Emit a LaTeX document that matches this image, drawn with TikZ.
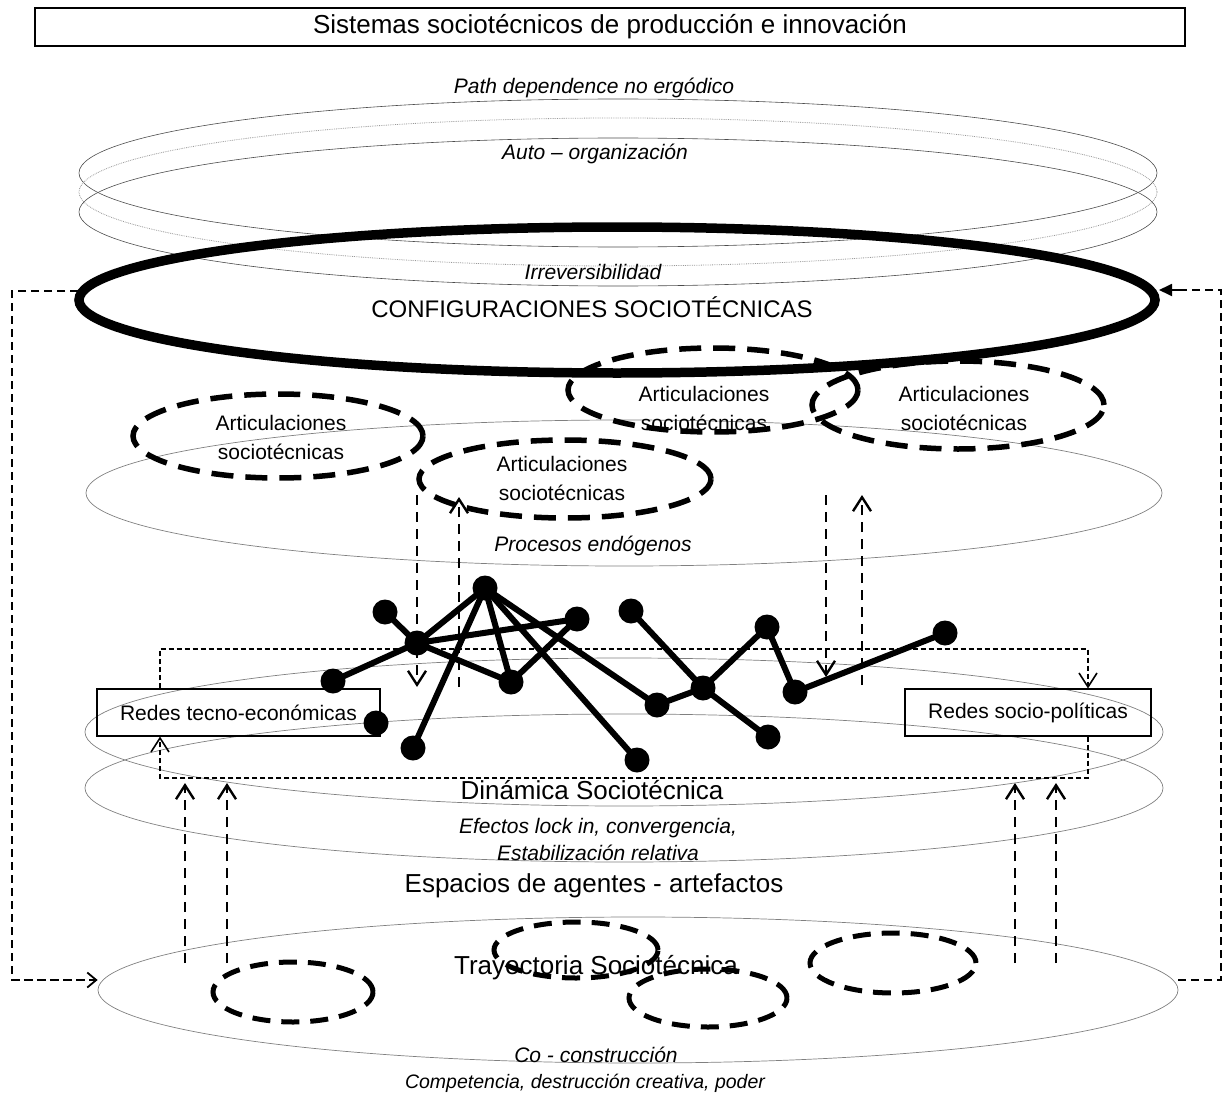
\documentclass[tikz,border=0pt]{standalone}
\usepackage{fontspec}
\setmainfont{Liberation Sans}
\usetikzlibrary{arrows.meta,shapes.geometric,calc}
\tikzset{
  layer/.style={draw=black!70, line width=0.6pt, ellipse, inner sep=0pt},
  layergray/.style={draw=black!50, line width=0.7pt, ellipse, inner sep=0pt},
  layerdot/.style={draw=black!40, line width=0.8pt, densely dotted, ellipse, inner sep=0pt},
  thickring/.style={draw, line width=9.5pt, ellipse, inner sep=0pt},
  artic/.style={draw, ellipse, line width=5.5pt, dash pattern=on 22pt off 12pt, inner sep=0pt},
  smallring/.style={draw, ellipse, line width=5pt, dash pattern=on 18pt off 11pt, inner sep=0pt},
  netnode/.style={circle, fill=black, minimum size=25pt, inner sep=0pt},
  netedge/.style={line width=6pt},
  redbox/.style={draw, line width=1.1pt, minimum height=47pt, inner sep=0pt, font=\fontsize{21}{25}\selectfont},
  ital/.style={font=\fontsize{21}{25}\selectfont\itshape},
  bigtext/.style={font=\fontsize{26}{30}\selectfont},
  conftext/.style={font=\fontsize{24}{28}\selectfont},
  midtext/.style={font=\fontsize{21}{29}\selectfont, align=center},
  vdash/.style={line width=2.4pt, dash pattern=on 10pt off 7pt, -{Straight Barb[length=14pt,width=18pt]}},
  rectdash/.style={line width=1.6pt, dash pattern=on 5pt off 3pt, -{Straight Barb[length=14pt,width=18pt]}},
  loopdash/.style={line width=1.8pt, dash pattern=on 8pt off 5pt},
}
\begin{document}
\begin{tikzpicture}[x=1pt,y=-1pt]
\useasboundingbox (0,0) rectangle (1229,1097);

% title
\node[draw, line width=1.6pt, minimum width=1150pt, minimum height=38pt, inner sep=0pt, bigtext] (title) at (610,27) {Sistemas sociotécnicos de producción e innovación};

% layer ellipses
\node[layer, minimum width=1078pt, minimum height=148pt] (layA) at (618,173) {};
\node[layerdot, minimum width=1078pt, minimum height=148pt] (layB) at (618,192) {};
\node[layer, minimum width=1078pt, minimum height=148pt] (layC) at (618,212) {};
\node[layergray, minimum width=1076pt, minimum height=146pt] (layD) at (624,493) {};
\node[layergray, minimum width=1078pt, minimum height=148pt] (layE) at (624,732) {};
\node[layergray, minimum width=1078pt, minimum height=148pt] (layF) at (624,788) {};
\node[layergray, minimum width=1080pt, minimum height=146pt] (layG) at (638,990) {};

% outer loops
\draw[loopdash] (78,291) -- (12,291) -- (12,980) -- (layG.west |- 0,980);
\draw[loopdash, -{Straight Barb[length=9pt,width=15pt]}] (12,980) -- (layG.west |- 0,980);
\draw[loopdash] (layG.east |- 0,980) -- (1221,980) -- (1221,290) -- (1175,290);
\draw[loopdash, -{Triangle[length=13pt,width=12pt]}] (1180,290) -- (1159,290);

% configurations ring
\node[thickring, minimum width=1076pt, minimum height=146pt] (config) at (617,300) {};

% articulation ellipses
\node[artic, minimum width=290pt, minimum height=84pt] (art1) at (278,436) {};
\node[artic, minimum width=292pt, minimum height=78pt] (art2) at (565,479) {};
\node[artic, minimum width=290pt, minimum height=84pt] (art3) at (713,390) {};
\node[artic, minimum width=292pt, minimum height=88pt] (art4) at (958,405) {};
\node[midtext] (art1t) at (281,437) {Articulaciones\\sociotécnicas};
\node[midtext] (art2t) at (562,478) {Articulaciones\\sociotécnicas};
\node[midtext] (art3t) at (704,408) {Articulaciones\\sociotécnicas};
\node[midtext] (art4t) at (964,408) {Articulaciones\\sociotécnicas};

% small rings in trajectory
\node[smallring, minimum width=160pt, minimum height=60pt] (ring1) at (293,992) {};
\node[smallring, minimum width=164pt, minimum height=56pt] (ring2) at (576,950) {};
\node[smallring, minimum width=158pt, minimum height=58pt] (ring3) at (708,998) {};
\node[smallring, minimum width=166pt, minimum height=60pt] (ring4) at (893,963) {};

% boxes
\node[redbox, minimum width=283pt] (rte) at (238.5,712.5) {Redes tecno-económicas};
\node[redbox, minimum width=246pt] (rsp) at (1028,712.5) {Redes socio-políticas};

% dashed rectangle between networks
\draw[rectdash] (rte.north -| 160,0) -- (160,649) -- (1088,649) -- (rsp.north -| 1088,0);
\draw[rectdash] (rsp.south -| 1088,0) -- (1088,778) -- (160,778) -- (rte.south -| 160,0);

% vertical dashed arrows
\coordinate (va1) at (417,495); \coordinate (vb1) at (417,687);
\coordinate (va2) at (459,687); \coordinate (vb2) at (459,497);
\coordinate (va3) at (826,495); \coordinate (vb3) at (826,677);
\coordinate (va4) at (862,685); \coordinate (vb4) at (862,495);
\coordinate (va5) at (185,963); \coordinate (vb5) at (185,783);
\coordinate (va6) at (227,963); \coordinate (vb6) at (227,783);
\coordinate (va7) at (1015,963); \coordinate (vb7) at (1015,783);
\coordinate (va8) at (1056,963); \coordinate (vb8) at (1056,783);
\foreach \i in {1,...,8} {\draw[vdash] (va\i) -- (vb\i);}

% network
\node[netnode] (n1) at (485,588) {};
\node[netnode] (n2) at (385,612) {};
\node[netnode] (n3) at (417,643) {};
\node[netnode] (n4) at (333,681) {};
\node[netnode] (n5) at (511,682) {};
\node[netnode] (n6) at (577,619) {};
\node[netnode] (n7) at (376,723) {};
\node[netnode] (n8) at (413,748) {};
\node[netnode] (n9) at (631,611) {};
\node[netnode] (n10) at (657,705) {};
\node[netnode] (n11) at (703,688) {};
\node[netnode] (n12) at (767,627) {};
\node[netnode] (n13) at (795,692) {};
\node[netnode] (n14) at (945,633) {};
\node[netnode] (n15) at (768,737) {};
\node[netnode] (n16) at (637,760) {};
\foreach \a/\b in {n1/n3,n1/n8,n1/n5,n1/n10,n1/n16,n3/n2,n3/n4,n3/n6,n3/n5,n5/n6,n9/n11,n10/n11,n11/n12,n11/n15,n12/n13,n13/n14}
  {\draw[netedge] (\a.center) -- (\b.center);}

% texts
\node[ital] (tPath) at (594,88) {Path dependence no ergódico};
\node[ital] (tAuto) at (595,154) {Auto – organización};
\node[ital] (tIrr) at (593,272) {Irreversibilidad};
\node[conftext] (tConf) at (592,307) {CONFIGURACIONES SOCIOTÉCNICAS};
\node[ital] (tProc) at (593,546) {Procesos endógenos};
\node[bigtext] (tDin) at (592,790) {Dinámica Sociotécnica};
\node[ital] (tEf) at (598,828) {Efectos lock in, convergencia,};
\node[ital] (tEst) at (598,853) {Estabilización relativa};
\node[bigtext] (tEsp) at (594,886) {Espacios de agentes - artefactos};
\node[bigtext] (tTray) at (596,968) {Trayectoria Sociotécnica};
\node[ital] (tCo) at (596,1055) {Co - construcción};
\node[ital, font=\fontsize{19.5}{24}\selectfont\itshape] (tComp) at (585,1083) {Competencia, destrucción creativa, poder};
\end{tikzpicture}
\end{document}
